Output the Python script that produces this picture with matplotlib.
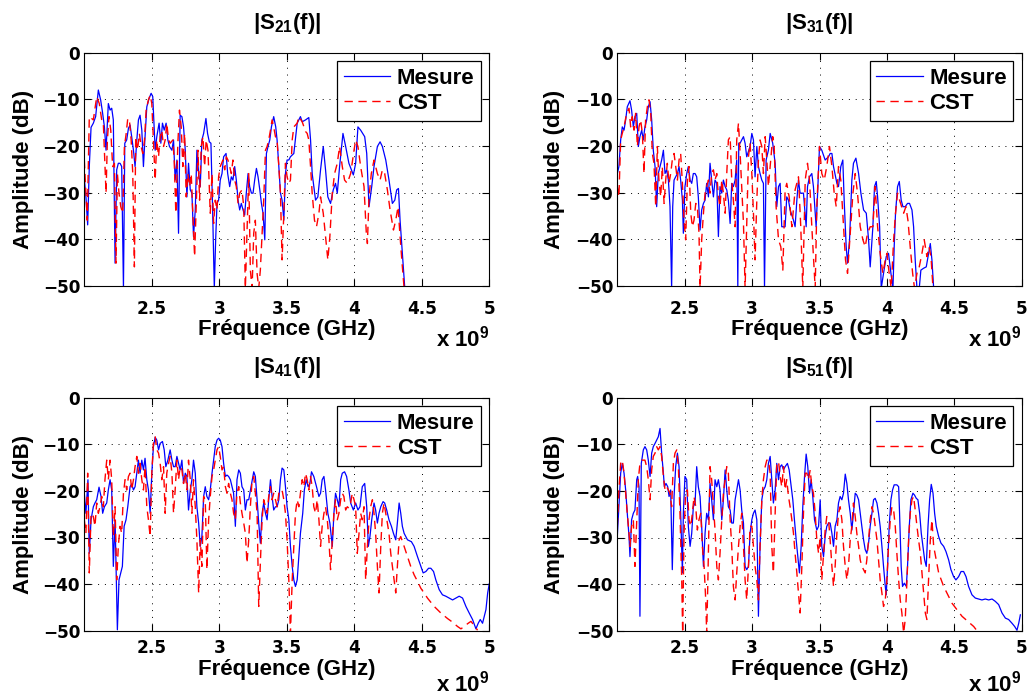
import matplotlib
matplotlib.use("Agg")
import matplotlib.pyplot as plt
from matplotlib.ticker import FuncFormatter

plt.rcParams['font.family'] = ['Liberation Sans', 'DejaVu Sans']
plt.rcParams['font.weight'] = 'bold'
plt.rcParams['mathtext.fontset'] = 'custom'
plt.rcParams['mathtext.rm'] = 'Liberation Sans:bold'
plt.rcParams['mathtext.bf'] = 'Liberation Sans:bold'
plt.rcParams['mathtext.default'] = 'bf'

# (frequency in GHz, amplitude in dB)
s21_mesure = [
    (2.000, -26.9), (2.012, -30.9), (2.025, -36.9), (2.037, -24.4), (2.050, -16.0), (2.067, -15.1),
    (2.084, -13.7), (2.104, -8.0), (2.121, -10.1), (2.134, -12.6), (2.149, -15.9), (2.161, -20.9),
    (2.178, -10.9), (2.191, -12.3), (2.203, -11.9), (2.215, -14.4), (2.228, -45.1), (2.240, -25.1),
    (2.252, -23.7), (2.265, -23.7), (2.277, -24.4), (2.290, -50.5), (2.300, -19.4), (2.314, -18.7),
    (2.327, -16.2), (2.339, -15.5), (2.351, -18.0), (2.364, -20.9), (2.376, -24.4), (2.389, -18.7),
    (2.401, -14.4), (2.413, -13.4), (2.426, -16.6), (2.438, -24.4), (2.450, -18.0), (2.463, -11.6),
    (2.480, -9.8), (2.495, -8.7), (2.507, -9.4), (2.525, -20.9), (2.537, -18.0), (2.554, -15.1),
    (2.567, -19.4), (2.579, -15.1), (2.592, -16.6), (2.606, -15.1), (2.619, -18.7), (2.631, -20.1),
    (2.649, -20.9), (2.661, -18.7), (2.673, -27.3), (2.686, -23.0), (2.698, -38.7), (2.710, -13.4),
    (2.723, -13.7), (2.735, -15.9), (2.748, -20.9), (2.760, -30.9), (2.772, -23.7), (2.785, -29.4),
    (2.797, -30.1), (2.809, -39.4), (2.822, -33.7), (2.834, -20.9), (2.847, -25.9), (2.859, -28.7),
    (2.871, -18.7), (2.884, -17.3), (2.901, -14.1), (2.913, -17.3), (2.926, -19.1), (2.938, -19.4),
    (2.950, -33.0), (2.963, -50.5), (2.973, -40.1), (2.983, -32.3), (2.995, -31.6), (3.007, -27.3),
    (3.020, -25.9), (3.032, -22.3), (3.050, -21.6), (3.062, -25.9), (3.077, -28.7), (3.089, -26.6),
    (3.101, -27.3), (3.114, -24.4), (3.126, -27.3), (3.139, -31.6), (3.151, -33.7), (3.163, -32.3),
    (3.176, -33.7), (3.188, -34.8), (3.200, -30.1), (3.213, -25.9), (3.225, -28.7), (3.238, -30.1),
    (3.250, -30.1), (3.262, -27.3), (3.275, -24.8), (3.287, -26.6), (3.300, -29.4), (3.312, -32.3),
    (3.324, -34.4), (3.337, -40.1), (3.349, -21.6), (3.361, -20.1), (3.374, -18.7), (3.386, -15.9),
    (3.403, -13.7), (3.418, -15.9), (3.428, -18.7), (3.441, -24.4), (3.453, -30.1), (3.465, -31.6),
    (3.478, -35.9), (3.490, -25.9), (3.502, -23.0), (3.515, -23.0), (3.527, -22.3), (3.552, -21.6),
    (3.577, -15.1), (3.601, -13.7), (3.614, -14.8), (3.639, -14.4), (3.663, -13.9), (3.676, -18.7),
    (3.688, -25.9), (3.713, -31.6), (3.730, -30.9), (3.750, -25.1), (3.770, -20.1), (3.787, -25.1),
    (3.804, -30.9), (3.824, -32.3), (3.844, -29.4), (3.861, -28.0), (3.874, -30.1), (3.891, -24.4),
    (3.916, -17.3), (3.936, -20.1), (3.960, -23.7), (3.993, -26.2), (4.010, -23.7), (4.027, -15.9),
    (4.047, -16.6), (4.077, -18.0), (4.092, -21.6), (4.109, -33.0), (4.129, -28.7), (4.146, -24.4),
    (4.171, -20.1), (4.191, -19.1), (4.208, -20.1), (4.233, -23.0), (4.257, -27.3), (4.282, -32.3),
    (4.300, -31.6), (4.314, -29.4), (4.327, -29.1), (4.339, -35.9), (4.356, -43.0), (4.374, -50.5),
]
s21_cst = [
    (2.000, -23.0), (2.022, -35.9), (2.037, -13.7), (2.054, -14.1), (2.067, -14.4), (2.092, -9.4),
    (2.111, -10.9), (2.129, -14.4), (2.141, -15.1), (2.161, -30.1), (2.171, -18.7), (2.183, -13.7),
    (2.196, -16.6), (2.210, -24.4), (2.223, -23.7), (2.235, -45.1), (2.245, -25.9), (2.257, -30.1),
    (2.270, -33.0), (2.285, -34.4), (2.297, -20.1), (2.309, -17.6), (2.322, -14.1), (2.334, -14.4),
    (2.347, -18.7), (2.359, -25.9), (2.371, -45.9), (2.381, -18.0), (2.394, -20.9), (2.408, -17.3),
    (2.421, -20.1), (2.433, -21.6), (2.446, -18.7), (2.458, -12.3), (2.475, -10.1), (2.488, -9.1),
    (2.500, -10.9), (2.512, -18.7), (2.525, -27.3), (2.537, -18.7), (2.550, -22.3), (2.562, -18.0),
    (2.574, -16.6), (2.587, -20.1), (2.599, -18.7), (2.611, -15.1), (2.624, -18.7), (2.636, -19.4),
    (2.656, -18.7), (2.666, -23.0), (2.678, -34.4), (2.693, -19.4), (2.705, -12.3), (2.718, -15.9),
    (2.730, -24.4), (2.743, -17.3), (2.755, -30.9), (2.767, -25.9), (2.780, -28.7), (2.792, -25.9),
    (2.804, -34.4), (2.817, -43.7), (2.829, -33.0), (2.842, -20.9), (2.854, -31.6), (2.866, -20.1),
    (2.879, -18.0), (2.891, -24.4), (2.903, -18.7), (2.916, -20.9), (2.933, -34.4), (2.946, -25.9),
    (2.958, -36.6), (2.970, -31.6), (2.983, -33.7), (2.995, -26.6), (3.007, -24.4), (3.027, -23.0),
    (3.040, -25.1), (3.052, -22.3), (3.064, -23.0), (3.077, -24.4), (3.089, -25.9), (3.101, -23.0),
    (3.114, -27.3), (3.126, -28.7), (3.139, -32.3), (3.151, -30.1), (3.168, -29.4), (3.181, -33.0),
    (3.193, -50.5), (3.205, -38.7), (3.218, -25.9), (3.230, -46.6), (3.243, -50.5), (3.255, -38.7),
    (3.267, -35.9), (3.280, -47.3), (3.292, -50.5), (3.304, -46.6), (3.317, -38.7), (3.329, -31.6),
    (3.342, -20.9), (3.354, -20.1), (3.366, -18.7), (3.379, -16.6), (3.391, -14.4), (3.403, -15.9),
    (3.416, -18.0), (3.428, -18.7), (3.441, -24.4), (3.453, -30.1), (3.465, -44.4), (3.478, -34.4),
    (3.490, -23.7), (3.502, -26.6), (3.515, -28.0), (3.527, -27.3), (3.540, -18.7), (3.552, -15.9),
    (3.577, -15.1), (3.589, -13.7), (3.614, -14.8), (3.639, -16.9), (3.651, -17.3), (3.663, -18.7),
    (3.676, -24.4), (3.688, -30.1), (3.705, -35.9), (3.720, -37.3), (3.738, -34.4), (3.750, -30.9),
    (3.770, -34.4), (3.787, -39.4), (3.804, -44.4), (3.819, -39.4), (3.837, -30.1), (3.854, -25.9),
    (3.874, -23.7), (3.891, -20.1), (3.911, -24.4), (3.928, -27.3), (3.948, -28.0), (3.973, -25.9),
    (3.998, -20.9), (4.010, -18.7), (4.027, -20.1), (4.047, -24.4), (4.072, -28.7), (4.089, -38.7),
    (4.097, -40.9), (4.109, -30.9), (4.126, -25.9), (4.146, -23.0), (4.171, -25.9), (4.191, -27.3),
    (4.208, -25.1), (4.225, -25.9), (4.245, -29.4), (4.265, -33.7), (4.290, -38.0), (4.307, -35.9),
    (4.324, -33.0), (4.339, -39.4), (4.356, -45.9), (4.369, -50.5),
]

s31_mesure = [
    (2.000, -25.9), (2.012, -24.4), (2.025, -18.7), (2.037, -15.9), (2.050, -16.6), (2.062, -14.4),
    (2.074, -11.6), (2.094, -10.3), (2.106, -12.3), (2.119, -15.9), (2.131, -13.7), (2.144, -13.0),
    (2.156, -20.1), (2.168, -18.0), (2.181, -16.6), (2.193, -18.7), (2.205, -15.9), (2.218, -14.4),
    (2.230, -11.6), (2.243, -10.5), (2.255, -14.4), (2.267, -20.9), (2.280, -24.4), (2.292, -33.0),
    (2.304, -25.9), (2.317, -24.4), (2.329, -23.0), (2.342, -20.9), (2.354, -25.9), (2.366, -25.1),
    (2.379, -27.3), (2.391, -33.0), (2.403, -50.5), (2.411, -33.0), (2.421, -27.3), (2.433, -26.6),
    (2.446, -25.9), (2.458, -24.4), (2.470, -27.3), (2.483, -31.6), (2.490, -38.7), (2.502, -28.7),
    (2.515, -25.9), (2.527, -24.4), (2.540, -27.3), (2.552, -28.0), (2.564, -25.9), (2.577, -25.9),
    (2.589, -26.6), (2.601, -30.9), (2.614, -38.0), (2.626, -33.7), (2.639, -32.3), (2.651, -31.6),
    (2.663, -28.0), (2.676, -30.9), (2.688, -23.7), (2.700, -27.3), (2.713, -30.9), (2.725, -27.3),
    (2.738, -28.0), (2.750, -39.4), (2.762, -28.7), (2.775, -30.1), (2.787, -27.3), (2.800, -28.7),
    (2.812, -29.4), (2.824, -31.6), (2.837, -36.6), (2.849, -28.0), (2.861, -28.7), (2.874, -27.3),
    (2.886, -23.0), (2.894, -50.5), (2.901, -19.4), (2.911, -19.4), (2.923, -18.7), (2.936, -18.0),
    (2.948, -19.4), (2.960, -22.3), (2.985, -20.1), (2.998, -17.3), (3.010, -18.7), (3.022, -26.6),
    (3.035, -20.1), (3.047, -24.4), (3.059, -25.9), (3.072, -27.3), (3.084, -28.0), (3.092, -50.5),
    (3.104, -23.0), (3.121, -20.9), (3.134, -17.3), (3.153, -19.4), (3.171, -23.7), (3.183, -33.0),
    (3.196, -28.7), (3.208, -28.0), (3.220, -37.3), (3.245, -37.3), (3.257, -30.9), (3.270, -31.6),
    (3.282, -33.7), (3.307, -35.9), (3.319, -37.3), (3.332, -31.6), (3.344, -27.3), (3.356, -30.1),
    (3.381, -30.1), (3.401, -37.3), (3.411, -28.7), (3.426, -26.6), (3.443, -25.9), (3.455, -28.7),
    (3.475, -37.3), (3.488, -28.7), (3.500, -20.1), (3.517, -20.9), (3.542, -23.0), (3.567, -22.3),
    (3.579, -21.6), (3.592, -21.6), (3.604, -24.4), (3.629, -28.0), (3.641, -28.7), (3.658, -24.4),
    (3.673, -23.0), (3.683, -31.6), (3.698, -41.6), (3.708, -45.1), (3.723, -40.1), (3.740, -27.3),
    (3.752, -23.7), (3.770, -22.6), (3.790, -25.9), (3.807, -30.1), (3.827, -33.7), (3.847, -34.4),
    (3.864, -40.1), (3.876, -45.9), (3.896, -37.3), (3.908, -28.7), (3.921, -27.6), (3.931, -30.9),
    (3.946, -37.3), (3.958, -50.5), (3.975, -47.3), (3.995, -43.7), (4.012, -43.0), (4.030, -47.3),
    (4.045, -50.5), (4.054, -41.6), (4.064, -34.4), (4.079, -28.7), (4.092, -27.6), (4.106, -31.6),
    (4.119, -33.0), (4.136, -33.0), (4.153, -32.3), (4.168, -32.3), (4.186, -33.7), (4.198, -37.3),
    (4.210, -44.4), (4.223, -50.5), (4.240, -50.5), (4.252, -46.6), (4.272, -46.2), (4.292, -45.9),
    (4.309, -43.0), (4.322, -40.9), (4.334, -44.4), (4.347, -50.5),
]
s31_cst = [
    (2.000, -28.7), (2.012, -30.9), (2.025, -18.7), (2.037, -17.3), (2.050, -15.9), (2.069, -13.0),
    (2.087, -11.9), (2.099, -15.9), (2.111, -13.7), (2.124, -16.6), (2.136, -13.0), (2.149, -20.1),
    (2.161, -15.9), (2.173, -14.4), (2.186, -17.3), (2.198, -25.9), (2.210, -14.4), (2.223, -11.6),
    (2.235, -10.1), (2.248, -13.0), (2.260, -21.6), (2.272, -23.7), (2.285, -33.0), (2.297, -20.1),
    (2.309, -27.3), (2.322, -30.9), (2.334, -24.4), (2.347, -32.3), (2.359, -27.3), (2.371, -23.7),
    (2.384, -28.0), (2.396, -25.9), (2.408, -23.0), (2.421, -21.6), (2.433, -24.4), (2.446, -27.3),
    (2.458, -23.0), (2.470, -21.6), (2.483, -28.0), (2.495, -35.9), (2.507, -40.1), (2.520, -27.3),
    (2.532, -24.4), (2.545, -34.4), (2.557, -37.3), (2.569, -35.9), (2.582, -32.3), (2.594, -33.0),
    (2.606, -38.7), (2.614, -50.5), (2.626, -40.1), (2.639, -34.4), (2.651, -30.1), (2.663, -28.7),
    (2.676, -27.3), (2.688, -30.1), (2.700, -25.9), (2.713, -25.1), (2.725, -27.3), (2.738, -25.9),
    (2.750, -30.9), (2.762, -33.0), (2.775, -27.3), (2.787, -30.1), (2.800, -34.4), (2.812, -25.9),
    (2.824, -18.7), (2.837, -18.0), (2.849, -27.3), (2.861, -31.6), (2.874, -37.3), (2.886, -18.7),
    (2.899, -15.1), (2.911, -21.6), (2.923, -28.7), (2.936, -36.6), (2.948, -50.5), (2.960, -37.3),
    (2.973, -22.3), (2.985, -19.4), (2.998, -25.9), (3.010, -34.4), (3.022, -44.4), (3.035, -31.6),
    (3.047, -23.0), (3.059, -18.7), (3.072, -20.1), (3.084, -25.9), (3.097, -18.0), (3.109, -23.0),
    (3.121, -28.7), (3.153, -18.0), (3.163, -19.4), (3.178, -33.0), (3.196, -40.1), (3.213, -41.6),
    (3.228, -46.6), (3.245, -29.4), (3.257, -28.0), (3.275, -30.9), (3.295, -37.3), (3.319, -29.4),
    (3.344, -26.6), (3.361, -37.3), (3.376, -50.5), (3.394, -27.3), (3.411, -23.7), (3.426, -27.3),
    (3.443, -37.3), (3.468, -50.5), (3.480, -33.0), (3.500, -20.1), (3.517, -25.9), (3.535, -27.3),
    (3.554, -24.4), (3.574, -20.1), (3.592, -24.4), (3.609, -30.1), (3.624, -33.0), (3.641, -24.4),
    (3.658, -27.3), (3.678, -37.3), (3.693, -44.4), (3.708, -47.3), (3.728, -38.7), (3.748, -30.1),
    (3.765, -25.9), (3.782, -30.1), (3.802, -37.3), (3.822, -40.1), (3.839, -41.6), (3.856, -38.7),
    (3.876, -37.3), (3.896, -37.3), (3.913, -28.7), (3.931, -37.3), (3.950, -43.0), (3.970, -47.3),
    (3.988, -44.4), (4.000, -43.0), (4.017, -47.3), (4.032, -50.5), (4.050, -40.1), (4.064, -34.4),
    (4.079, -30.1), (4.094, -31.6), (4.109, -33.0), (4.124, -34.4), (4.141, -33.0), (4.156, -35.9),
    (4.173, -41.6), (4.191, -47.3), (4.205, -50.5), (4.223, -47.3), (4.240, -45.9), (4.260, -43.0),
    (4.277, -40.1), (4.297, -43.7), (4.312, -41.6), (4.327, -43.7), (4.342, -50.5),
]

s41_mesure = [
    (2.000, -20.5), (2.012, -24.8), (2.027, -17.6), (2.037, -33.4), (2.050, -26.2), (2.067, -23.4),
    (2.079, -22.6), (2.092, -21.9), (2.109, -19.2), (2.124, -21.2), (2.136, -24.8), (2.149, -23.4),
    (2.166, -22.6), (2.178, -19.8), (2.191, -17.6), (2.203, -19.8), (2.215, -36.2), (2.228, -26.2),
    (2.245, -49.8), (2.257, -39.1), (2.270, -37.6), (2.282, -36.2), (2.295, -27.6), (2.309, -26.2),
    (2.322, -23.4), (2.339, -19.1), (2.351, -18.5), (2.364, -19.8), (2.376, -19.1), (2.389, -16.2),
    (2.401, -13.4), (2.413, -16.2), (2.426, -13.4), (2.438, -15.5), (2.450, -13.0), (2.463, -17.6),
    (2.475, -19.8), (2.488, -24.8), (2.500, -16.2), (2.512, -10.5), (2.525, -8.5), (2.537, -9.1),
    (2.550, -11.2), (2.562, -9.8), (2.579, -9.4), (2.592, -11.2), (2.604, -14.8), (2.619, -13.4),
    (2.636, -11.2), (2.649, -13.4), (2.661, -14.8), (2.673, -14.8), (2.686, -12.6), (2.698, -14.1),
    (2.710, -15.5), (2.723, -13.4), (2.735, -18.4), (2.748, -16.2), (2.760, -16.9), (2.772, -24.1),
    (2.785, -19.8), (2.797, -17.6), (2.809, -13.4), (2.822, -16.2), (2.834, -23.4), (2.847, -26.9),
    (2.859, -31.9), (2.871, -29.8), (2.884, -21.2), (2.896, -19.1), (2.908, -21.2), (2.921, -21.9),
    (2.933, -19.8), (2.946, -16.2), (2.958, -13.4), (2.970, -10.5), (2.983, -9.1), (2.995, -8.7),
    (3.007, -9.1), (3.020, -10.5), (3.032, -14.1), (3.045, -16.9), (3.057, -16.6), (3.069, -16.9),
    (3.082, -17.6), (3.094, -19.1), (3.106, -20.5), (3.119, -27.6), (3.131, -17.6), (3.144, -15.5),
    (3.156, -16.2), (3.168, -19.1), (3.181, -19.8), (3.193, -24.1), (3.205, -21.9), (3.218, -21.9),
    (3.235, -19.1), (3.255, -15.9), (3.267, -16.9), (3.280, -21.9), (3.292, -26.9), (3.304, -31.2),
    (3.317, -24.8), (3.329, -22.6), (3.342, -24.8), (3.354, -26.2), (3.366, -21.9), (3.379, -17.6),
    (3.391, -21.2), (3.403, -24.1), (3.416, -23.4), (3.428, -23.4), (3.441, -21.9), (3.453, -17.6),
    (3.465, -15.1), (3.478, -15.5), (3.490, -19.1), (3.502, -23.4), (3.515, -26.2), (3.527, -31.9),
    (3.540, -36.2), (3.552, -39.1), (3.564, -40.5), (3.577, -39.1), (3.589, -34.1), (3.601, -29.1),
    (3.618, -24.8), (3.630, -19.8), (3.644, -17.6), (3.658, -19.1), (3.671, -18.4), (3.683, -15.9),
    (3.700, -16.9), (3.720, -19.1), (3.738, -21.2), (3.750, -20.5), (3.762, -17.6), (3.775, -16.9),
    (3.787, -19.8), (3.804, -24.8), (3.819, -26.9), (3.837, -31.9), (3.849, -24.8), (3.861, -20.5),
    (3.874, -21.9), (3.886, -23.4), (3.899, -17.6), (3.911, -16.2), (3.928, -15.9), (3.943, -16.9),
    (3.960, -19.8), (3.973, -22.6), (3.993, -24.1), (4.010, -22.6), (4.027, -24.1), (4.042, -23.4),
    (4.059, -19.1), (4.077, -18.4), (4.092, -23.4), (4.104, -31.9), (4.116, -29.8), (4.129, -26.2),
    (4.146, -22.6), (4.158, -24.1), (4.171, -26.9), (4.183, -24.8), (4.196, -23.4), (4.213, -22.3),
    (4.225, -22.6), (4.240, -24.1), (4.257, -26.2), (4.275, -27.6), (4.290, -29.1), (4.307, -30.5),
    (4.319, -26.9), (4.332, -22.6), (4.344, -24.8), (4.356, -27.6), (4.369, -29.1), (4.394, -30.5),
    (4.423, -30.9), (4.443, -31.9), (4.468, -34.1), (4.493, -36.2), (4.510, -37.6), (4.530, -37.3),
    (4.550, -36.6), (4.567, -36.6), (4.587, -37.3), (4.604, -39.1), (4.629, -41.2), (4.653, -42.3),
    (4.678, -42.6), (4.703, -43.0), (4.728, -43.4), (4.752, -43.0), (4.777, -42.6), (4.802, -43.0),
    (4.827, -44.8), (4.851, -46.2), (4.876, -47.6), (4.901, -49.6), (4.918, -48.4), (4.933, -47.6),
    (4.950, -48.4), (4.963, -46.9), (4.975, -45.5), (4.988, -41.9), (5.000, -39.9),
]
s41_cst = [
    (2.000, -26.2), (2.012, -29.1), (2.025, -16.2), (2.037, -37.6), (2.050, -24.8), (2.067, -25.5),
    (2.079, -27.6), (2.092, -22.6), (2.104, -24.8), (2.116, -23.4), (2.129, -21.2), (2.141, -23.4),
    (2.153, -17.6), (2.166, -13.4), (2.178, -17.6), (2.191, -13.4), (2.203, -17.6), (2.215, -29.8),
    (2.228, -23.4), (2.240, -39.1), (2.252, -31.9), (2.265, -27.6), (2.277, -29.1), (2.290, -20.5),
    (2.302, -17.6), (2.314, -19.8), (2.327, -16.9), (2.339, -16.2), (2.351, -19.8), (2.364, -17.6),
    (2.376, -14.8), (2.389, -12.6), (2.401, -16.2), (2.413, -14.1), (2.426, -17.6), (2.438, -19.8),
    (2.450, -14.8), (2.463, -23.4), (2.475, -26.2), (2.488, -29.8), (2.500, -16.2), (2.512, -9.8),
    (2.525, -8.4), (2.537, -11.2), (2.550, -11.9), (2.562, -14.1), (2.574, -17.6), (2.587, -14.8),
    (2.599, -24.8), (2.611, -16.2), (2.624, -14.1), (2.636, -12.6), (2.649, -16.2), (2.661, -24.8),
    (2.673, -19.8), (2.686, -13.4), (2.698, -17.6), (2.710, -14.8), (2.723, -15.5), (2.735, -18.4),
    (2.748, -16.2), (2.760, -19.8), (2.772, -13.4), (2.785, -17.6), (2.797, -24.8), (2.809, -17.6),
    (2.822, -23.4), (2.834, -30.5), (2.847, -41.9), (2.859, -30.5), (2.871, -36.2), (2.884, -21.2),
    (2.896, -21.9), (2.908, -36.9), (2.921, -26.2), (2.933, -21.2), (2.946, -16.9), (2.958, -15.5),
    (2.970, -13.4), (2.983, -11.2), (2.995, -10.5), (3.007, -12.6), (3.020, -15.5), (3.032, -14.8),
    (3.045, -19.1), (3.057, -20.5), (3.069, -18.4), (3.082, -20.5), (3.094, -21.9), (3.106, -24.8),
    (3.119, -26.2), (3.131, -20.5), (3.144, -19.1), (3.156, -22.6), (3.168, -24.8), (3.181, -26.9),
    (3.193, -29.1), (3.205, -35.5), (3.218, -30.5), (3.230, -23.4), (3.243, -17.6), (3.255, -16.9),
    (3.267, -20.5), (3.280, -24.8), (3.292, -44.8), (3.304, -35.5), (3.317, -26.2), (3.329, -21.9),
    (3.342, -23.4), (3.354, -24.8), (3.366, -21.2), (3.379, -19.1), (3.391, -21.9), (3.403, -20.5),
    (3.416, -21.9), (3.428, -23.4), (3.441, -20.5), (3.453, -20.5), (3.465, -19.8), (3.478, -21.9),
    (3.490, -24.8), (3.502, -30.5), (3.515, -39.1), (3.527, -50.5), (3.540, -39.1), (3.552, -31.9),
    (3.564, -24.8), (3.577, -21.9), (3.589, -23.4), (3.601, -20.5), (3.614, -17.6), (3.626, -19.1),
    (3.639, -16.2), (3.651, -17.6), (3.663, -19.8), (3.676, -16.9), (3.688, -19.1), (3.700, -23.4),
    (3.713, -24.8), (3.725, -21.9), (3.738, -26.2), (3.750, -31.9), (3.762, -27.6), (3.775, -24.8),
    (3.787, -23.4), (3.800, -26.2), (3.812, -30.5), (3.824, -36.9), (3.837, -30.5), (3.849, -24.8),
    (3.861, -21.9), (3.874, -26.2), (3.886, -24.8), (3.899, -21.9), (3.911, -20.5), (3.923, -21.2),
    (3.936, -24.1), (3.948, -23.4), (3.960, -23.7), (3.973, -22.6), (3.985, -20.5), (3.998, -21.9),
    (4.010, -23.4), (4.022, -33.4), (4.035, -29.1), (4.047, -24.8), (4.059, -26.2), (4.072, -23.4),
    (4.084, -39.1), (4.097, -31.9), (4.109, -26.2), (4.121, -23.4), (4.134, -21.9), (4.146, -24.8),
    (4.158, -29.1), (4.171, -36.2), (4.183, -41.9), (4.196, -31.9), (4.208, -24.8), (4.220, -22.6),
    (4.233, -24.8), (4.245, -26.9), (4.257, -29.1), (4.270, -33.4), (4.282, -36.2), (4.295, -39.1),
    (4.307, -41.9), (4.319, -36.2), (4.332, -30.5), (4.344, -29.8), (4.369, -31.9), (4.394, -34.1),
    (4.418, -36.2), (4.443, -38.0), (4.468, -39.4), (4.493, -40.9), (4.517, -41.9), (4.542, -43.0),
    (4.567, -43.9), (4.592, -44.8), (4.616, -45.5), (4.641, -46.2), (4.666, -46.8), (4.691, -47.4),
    (4.715, -47.9), (4.740, -48.5), (4.765, -49.1), (4.790, -49.6), (4.814, -49.1), (4.839, -48.5),
    (4.864, -48.0), (4.889, -48.9), (4.913, -49.9),
]

s51_mesure = [
    (2.000, -29.8), (2.012, -23.4), (2.025, -16.2), (2.037, -14.1), (2.050, -16.2), (2.062, -19.8),
    (2.074, -24.8), (2.087, -29.8), (2.094, -34.1), (2.106, -26.2), (2.119, -24.8), (2.131, -24.1),
    (2.144, -17.6), (2.151, -16.9), (2.161, -19.1), (2.168, -46.9), (2.178, -14.1), (2.193, -11.2),
    (2.205, -10.5), (2.218, -11.2), (2.230, -13.4), (2.243, -16.9), (2.255, -11.9), (2.267, -10.5),
    (2.280, -9.8), (2.292, -9.1), (2.304, -8.4), (2.317, -6.6), (2.329, -11.9), (2.342, -16.2),
    (2.349, -19.1), (2.361, -18.4), (2.374, -19.1), (2.384, -21.2), (2.396, -19.8), (2.408, -36.9),
    (2.421, -21.2), (2.433, -14.8), (2.446, -11.9), (2.458, -14.8), (2.470, -24.8), (2.483, -37.6),
    (2.490, -24.8), (2.502, -16.9), (2.515, -17.6), (2.527, -27.6), (2.540, -31.9), (2.552, -29.1),
    (2.564, -23.4), (2.577, -22.6), (2.589, -14.8), (2.601, -19.1), (2.614, -21.2), (2.626, -27.6),
    (2.639, -36.2), (2.651, -29.1), (2.663, -24.8), (2.676, -26.2), (2.688, -18.4), (2.700, -21.9),
    (2.713, -26.2), (2.725, -17.6), (2.738, -19.1), (2.750, -17.6), (2.762, -19.8), (2.775, -26.2),
    (2.787, -21.9), (2.800, -15.5), (2.812, -19.8), (2.824, -23.4), (2.837, -24.1), (2.849, -26.9),
    (2.861, -26.9), (2.874, -21.9), (2.886, -19.8), (2.899, -17.6), (2.911, -19.8), (2.923, -24.1),
    (2.936, -26.9), (2.948, -36.2), (2.960, -36.9), (2.973, -36.2), (2.985, -29.1), (2.998, -26.2),
    (3.010, -24.8), (3.022, -24.1), (3.035, -26.2), (3.047, -46.9), (3.059, -31.9), (3.072, -21.9),
    (3.084, -19.8), (3.097, -19.1), (3.109, -17.6), (3.121, -14.1), (3.134, -12.6), (3.158, -22.6),
    (3.171, -19.8), (3.183, -14.1), (3.196, -17.6), (3.208, -14.8), (3.220, -14.4), (3.233, -15.5),
    (3.245, -14.8), (3.262, -14.1), (3.275, -15.5), (3.287, -18.4), (3.302, -21.9), (3.314, -26.2),
    (3.327, -30.5), (3.339, -34.1), (3.351, -37.6), (3.364, -31.9), (3.376, -23.4), (3.389, -16.9),
    (3.401, -12.1), (3.413, -14.8), (3.426, -20.5), (3.438, -17.6), (3.450, -21.2), (3.463, -26.2),
    (3.480, -28.4), (3.493, -27.6), (3.505, -21.9), (3.517, -31.9), (3.530, -34.1), (3.542, -29.8),
    (3.554, -27.6), (3.567, -26.9), (3.579, -26.9), (3.592, -29.1), (3.604, -31.9), (3.616, -27.6),
    (3.629, -26.2), (3.641, -22.6), (3.653, -21.2), (3.666, -21.9), (3.678, -20.5), (3.691, -16.4),
    (3.703, -18.4), (3.715, -21.9), (3.728, -24.8), (3.740, -28.4), (3.752, -24.8), (3.765, -20.5),
    (3.777, -20.9), (3.790, -21.9), (3.802, -24.8), (3.814, -27.6), (3.827, -30.5), (3.839, -32.6),
    (3.851, -33.4), (3.864, -31.2), (3.876, -27.6), (3.889, -24.8), (3.901, -21.9), (3.913, -21.6),
    (3.926, -22.6), (3.938, -24.8), (3.950, -27.6), (3.963, -31.9), (3.975, -36.2), (3.988, -40.5),
    (3.995, -42.3), (4.005, -36.2), (4.017, -27.6), (4.030, -21.9), (4.042, -19.8), (4.054, -18.7),
    (4.074, -18.7), (4.087, -19.1), (4.094, -24.8), (4.106, -36.2), (4.116, -40.5), (4.129, -39.8),
    (4.144, -40.5), (4.153, -36.2), (4.166, -27.6), (4.178, -21.9), (4.193, -20.5), (4.205, -20.9),
    (4.218, -21.6), (4.230, -21.9), (4.243, -24.8), (4.255, -29.1), (4.267, -31.9), (4.280, -34.8),
    (4.292, -36.2), (4.305, -27.6), (4.317, -21.9), (4.329, -18.6), (4.342, -20.5), (4.354, -24.8),
    (4.366, -27.6), (4.384, -29.8), (4.401, -31.2), (4.421, -31.9), (4.438, -33.0), (4.458, -34.8),
    (4.475, -36.9), (4.495, -38.4), (4.512, -39.1), (4.532, -38.4), (4.550, -37.3), (4.569, -37.3),
    (4.587, -38.4), (4.606, -40.5), (4.631, -42.3), (4.656, -43.0), (4.681, -43.2), (4.705, -43.4),
    (4.730, -43.2), (4.755, -43.4), (4.780, -43.2), (4.804, -43.7), (4.829, -44.4), (4.854, -46.2),
    (4.879, -47.3), (4.903, -47.6), (4.928, -48.4), (4.948, -49.1), (4.965, -49.9), (4.978, -48.4),
    (4.990, -46.6),
]
s51_cst = [
    (2.000, -27.6), (2.012, -19.8), (2.025, -14.1), (2.037, -13.4), (2.050, -16.2), (2.062, -20.5),
    (2.074, -24.8), (2.087, -29.1), (2.094, -31.9), (2.106, -27.6), (2.119, -26.2), (2.131, -36.2),
    (2.144, -26.2), (2.156, -17.6), (2.168, -14.1), (2.181, -13.4), (2.193, -13.4), (2.205, -13.4),
    (2.218, -14.8), (2.230, -17.6), (2.243, -21.9), (2.255, -15.5), (2.267, -12.6), (2.280, -11.9),
    (2.292, -10.5), (2.304, -11.2), (2.317, -10.5), (2.329, -12.6), (2.342, -16.9), (2.354, -19.8),
    (2.366, -19.1), (2.379, -19.8), (2.391, -20.5), (2.403, -23.4), (2.416, -14.1), (2.428, -11.9),
    (2.441, -11.2), (2.453, -14.8), (2.465, -24.8), (2.478, -39.1), (2.485, -50.5), (2.495, -29.1),
    (2.507, -20.5), (2.520, -19.8), (2.532, -26.2), (2.545, -27.6), (2.557, -24.8), (2.569, -21.2),
    (2.582, -23.4), (2.594, -28.4), (2.606, -26.2), (2.619, -24.8), (2.631, -31.9), (2.644, -36.2),
    (2.656, -43.4), (2.663, -50.5), (2.671, -40.5), (2.681, -24.8), (2.688, -14.8), (2.700, -17.6),
    (2.713, -23.4), (2.725, -28.4), (2.738, -36.2), (2.750, -39.1), (2.762, -33.4), (2.775, -26.2),
    (2.787, -20.5), (2.800, -17.6), (2.812, -14.8), (2.824, -16.2), (2.837, -26.2), (2.849, -31.9),
    (2.861, -40.5), (2.874, -43.4), (2.886, -37.6), (2.899, -31.9), (2.911, -27.6), (2.923, -24.8),
    (2.936, -31.9), (2.948, -39.1), (2.960, -43.4), (2.973, -36.2), (2.985, -27.6), (2.998, -27.6),
    (3.010, -31.9), (3.022, -36.2), (3.035, -39.1), (3.047, -43.4), (3.059, -31.9), (3.072, -21.9),
    (3.084, -17.6), (3.097, -14.8), (3.109, -13.4), (3.121, -13.4), (3.134, -16.2), (3.146, -31.9),
    (3.158, -37.6), (3.171, -24.8), (3.183, -14.1), (3.196, -13.7), (3.208, -16.9), (3.220, -19.1),
    (3.233, -14.8), (3.245, -19.8), (3.257, -17.6), (3.270, -21.2), (3.282, -23.4), (3.295, -26.2),
    (3.307, -29.1), (3.319, -33.4), (3.332, -37.6), (3.344, -41.9), (3.356, -46.2), (3.369, -36.2),
    (3.381, -24.8), (3.394, -16.2), (3.406, -16.2), (3.418, -17.6), (3.431, -15.5), (3.443, -19.1),
    (3.455, -20.5), (3.468, -24.8), (3.480, -30.5), (3.493, -33.4), (3.505, -29.8), (3.517, -39.1),
    (3.530, -33.4), (3.542, -28.4), (3.554, -25.5), (3.567, -26.2), (3.579, -30.5), (3.592, -36.2),
    (3.604, -40.5), (3.616, -36.2), (3.629, -29.1), (3.641, -24.8), (3.653, -23.4), (3.666, -26.2),
    (3.678, -31.9), (3.691, -36.2), (3.703, -39.1), (3.715, -36.2), (3.728, -30.5), (3.740, -27.6),
    (3.752, -22.6), (3.765, -25.5), (3.777, -29.1), (3.790, -31.9), (3.802, -34.8), (3.814, -36.2),
    (3.827, -36.9), (3.839, -37.6), (3.851, -34.8), (3.864, -30.5), (3.876, -26.2), (3.889, -23.4),
    (3.901, -24.8), (3.913, -27.6), (3.926, -30.5), (3.938, -34.8), (3.950, -39.1), (3.963, -41.9),
    (3.975, -44.8), (3.988, -43.4), (4.000, -39.1), (4.012, -31.9), (4.025, -26.2), (4.037, -23.4),
    (4.050, -24.1), (4.062, -27.6), (4.074, -33.4), (4.087, -39.1), (4.099, -43.4), (4.111, -46.2),
    (4.124, -50.5), (4.136, -47.6), (4.149, -39.1), (4.161, -30.5), (4.173, -24.8), (4.186, -21.9),
    (4.198, -21.2), (4.210, -24.1), (4.223, -27.6), (4.235, -30.5), (4.248, -33.4), (4.260, -37.6),
    (4.272, -41.9), (4.285, -46.2), (4.297, -47.6), (4.309, -39.1), (4.322, -30.5), (4.334, -26.2),
    (4.347, -31.9), (4.384, -37.6), (4.421, -40.5), (4.483, -44.1), (4.557, -46.9), (4.644, -49.1),
    (4.681, -50.5),
]

titles = [r'|S$_{21}$(f)|', r'|S$_{31}$(f)|', r'|S$_{41}$(f)|', r'|S$_{51}$(f)|']
x_ticks = [2.5, 3, 3.5, 4, 4.5, 5]
y_ticks = [-50, -40, -30, -20, -10, 0]

W, H = 1029, 695
fig = plt.figure(figsize=(W / 100, H / 100), dpi=100)

# axes boxes in pixels: left, top, right, bottom
boxes = [(84.3, 52.7, 489.3, 286.0), (617.3, 52.7, 1021.7, 286.0),
         (84.3, 397.7, 489.3, 630.7), (617.3, 397.7, 1021.7, 630.7)]
data = [(s21_mesure, s21_cst), (s31_mesure, s31_cst),
        (s41_mesure, s41_cst), (s51_mesure, s51_cst)]

fs = 16
for i, (box, (mes, cst), title) in enumerate(zip(boxes, data, titles)):
    l, t, r, b = box
    top_row = i < 2
    ax = fig.add_axes([l / W, 1 - b / H, (r - l) / W, (b - t) / H])
    fm, am = zip(*mes)
    fc, ac = zip(*cst)
    ax.plot(fm, am, color='b', lw=0.9, label='Mesure')
    ax.plot(fc, ac, color='r', lw=1.0, ls=(0, (6, 4)), label='CST')
    ax.set_xlim(2, 5)
    ax.set_ylim(-50, 0)
    ax.set_xticks(x_ticks)
    ax.set_yticks(y_ticks)
    ax.xaxis.set_major_formatter(FuncFormatter(lambda v, p: '%g' % v))
    ax.yaxis.set_major_formatter(FuncFormatter(lambda v, p: ('%g' % v).replace('-', '\u2212')))
    ax.grid(True, color='k', ls=(0, (1, 6)), lw=0.7)
    ax.tick_params(direction='in', top=True, right=True, length=5, width=0.8,
                   labelsize=12.2, labelfontfamily='DejaVu Sans')
    ax.tick_params(axis='x', pad=9.8 if top_row else 6.2)
    ax.tick_params(axis='y', pad=3)
    for sp in ax.spines.values():
        sp.set_linewidth(0.8)
    ax.set_xlabel('Fréquence (GHz)', fontsize=fs, fontweight='bold')
    ax.set_ylabel('Amplitude (dB)', fontsize=fs, fontweight='bold')
    ax.xaxis.label.set_va('baseline')
    ax.xaxis.set_label_coords(0.5, -0.210 if top_row else -0.190)
    ax.yaxis.set_label_coords(-0.123 if i % 2 == 0 else -0.129, 0.5)
    ax.text(0.5, 1.124 if top_row else 1.13, title, transform=ax.transAxes,
            ha='center', va='center', fontsize=fs, fontweight='bold')
    ax.text(1.0, -0.259 if top_row else -0.262, r'x 10$^{9}$', transform=ax.transAxes,
            ha='right', va='baseline', fontsize=fs, fontweight='bold')
    leg = ax.legend(loc='upper right', bbox_to_anchor=(1 - 8.3 / (r - l), 1 - 8.3 / (b - t)),
                    borderaxespad=0, fontsize=fs, fancybox=False, framealpha=1,
                    edgecolor='k', handlelength=2.1, handletextpad=0.28,
                    labelspacing=0.2, borderpad=0.3)
    leg.get_frame().set_linewidth(0.9)

fig.savefig('out.png', dpi=100)
